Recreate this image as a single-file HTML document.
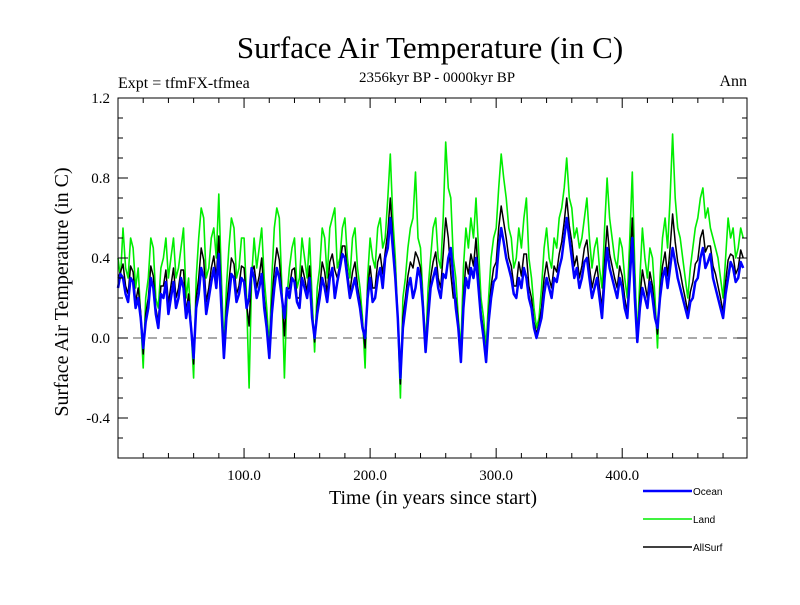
<!DOCTYPE html>
<html><head><meta charset="utf-8"><style>
body{margin:0;background:#fff}
svg text{font-family:"Liberation Serif",serif;fill:#000}
</style></head><body>
<svg id="chart" width="800" height="600" viewBox="0 0 800 600">
<text x="430" y="58" font-size="31" text-anchor="middle">Surface Air Temperature (in C)</text>
<text x="118" y="88" font-size="16">Expt = tfmFX-tfmea</text>
<text x="437" y="82" font-size="15" text-anchor="middle">2356kyr BP - 0000kyr BP</text>
<text x="747" y="86" font-size="16" text-anchor="end">Ann</text>
<text transform="translate(68,292) rotate(-90)" font-size="20" text-anchor="middle">Surface Air Temperature (in C)</text>
<text x="433" y="504" font-size="20" text-anchor="middle">Time (in years since start)</text>
<g id="plot"></g>
<g id="axes"></g>
<g>
<line x1="643" y1="491" x2="692" y2="491" stroke="#0000ff" stroke-width="2.5"/>
<text x="693" y="495" font-size="10" style="font-family:'Liberation Sans',sans-serif">Ocean</text>
<line x1="643" y1="519" x2="692" y2="519" stroke="#00ee00" stroke-width="1.5"/>
<text x="693" y="523" font-size="10" style="font-family:'Liberation Sans',sans-serif">Land</text>
<line x1="643" y1="547" x2="692" y2="547" stroke="#000" stroke-width="1.5"/>
<text x="693" y="551" font-size="10" style="font-family:'Liberation Sans',sans-serif">AllSurf</text>
</g>
</svg>
<script>
const yearStep = 2;
const oceanValues = [0.25,0.32,0.3,0.22,0.18,0.3,0.28,0.15,0.2,0.1,-0.05,0.08,0.15,0.3,0.25,0.12,0.05,0.22,0.2,0.28,
0.12,0.2,0.28,0.15,0.2,0.3,0.25,0.1,0.18,0.05,-0.1,0.15,0.22,0.35,0.3,0.12,0.2,0.28,0.35,0.25,
0.42,0.15,-0.1,0.1,0.2,0.32,0.3,0.18,0.22,0.3,0.28,0.15,0.2,0.35,0.3,0.2,0.25,0.32,0.15,0.05,
-0.1,0.12,0.25,0.35,0.3,0.2,0.1,0.25,0.2,0.3,0.28,0.18,0.15,0.3,0.25,0.2,0.3,0.1,0.0,0.12,
0.2,0.3,0.25,0.18,0.3,0.35,0.2,0.28,0.35,0.42,0.4,0.3,0.2,0.25,0.3,0.22,0.15,0.05,0.0,0.2,
0.3,0.18,0.2,0.3,0.35,0.25,0.4,0.45,0.6,0.45,0.3,0.1,-0.2,0.05,0.15,0.25,0.3,0.2,0.25,0.35,
0.3,0.15,-0.07,0.1,0.25,0.3,0.35,0.25,0.2,0.32,0.3,0.4,0.45,0.3,0.15,0.05,-0.12,0.15,0.3,0.25,
0.35,0.3,0.4,0.25,0.1,0.0,-0.12,0.08,0.2,0.28,0.3,0.45,0.55,0.48,0.4,0.35,0.3,0.22,0.2,0.3,
0.25,0.35,0.3,0.2,0.15,0.05,0.0,0.05,0.1,0.22,0.3,0.25,0.2,0.3,0.28,0.35,0.4,0.5,0.6,0.5,
0.4,0.3,0.35,0.25,0.3,0.38,0.4,0.3,0.2,0.25,0.3,0.2,0.1,0.3,0.45,0.35,0.3,0.25,0.2,0.3,
0.25,0.15,0.1,0.3,0.5,0.2,-0.02,0.15,0.25,0.2,0.15,0.28,0.2,0.1,0.05,0.2,0.3,0.35,0.25,0.35,
0.45,0.38,0.3,0.25,0.2,0.15,0.1,0.18,0.2,0.28,0.3,0.4,0.45,0.35,0.38,0.42,0.3,0.25,0.2,0.15,
0.1,0.22,0.3,0.38,0.35,0.28,0.3,0.38,0.35];
const landValues = [0.4,0.3,0.55,0.35,0.3,0.5,0.45,0.25,0.35,0.1,-0.15,0.2,0.3,0.5,0.45,0.2,0.15,0.35,0.4,0.5,
0.3,0.4,0.5,0.3,0.35,0.45,0.55,0.2,0.3,0.05,-0.2,0.3,0.5,0.65,0.6,0.3,0.35,0.5,0.55,0.4,
0.72,0.3,-0.05,0.25,0.45,0.6,0.55,0.3,0.35,0.5,0.5,0.2,-0.25,0.3,0.5,0.35,0.45,0.55,0.3,0.15,
-0.05,0.3,0.55,0.65,0.6,0.25,-0.2,0.2,0.35,0.45,0.5,0.25,0.3,0.5,0.4,0.3,0.5,0.2,-0.07,0.25,
0.35,0.55,0.5,0.3,0.55,0.6,0.65,0.35,0.4,0.55,0.6,0.4,0.3,0.5,0.55,0.35,0.25,0.1,-0.15,0.3,
0.5,0.4,0.35,0.55,0.6,0.45,0.5,0.7,0.92,0.6,0.4,0.1,-0.3,0.2,0.3,0.45,0.55,0.6,0.83,0.5,
0.45,0.2,-0.05,0.25,0.4,0.55,0.6,0.4,0.35,0.6,0.98,0.75,0.7,0.4,0.3,0.1,-0.05,0.35,0.55,0.45,
0.6,0.5,0.7,0.45,0.2,0.1,-0.05,0.2,0.4,0.5,0.55,0.75,0.92,0.8,0.7,0.55,0.5,0.35,0.4,0.55,
0.45,0.6,0.7,0.4,0.3,0.15,0.05,0.1,0.25,0.45,0.55,0.4,0.35,0.5,0.45,0.6,0.65,0.75,0.9,0.7,
0.65,0.5,0.55,0.45,0.5,0.6,0.7,0.5,0.35,0.45,0.5,0.35,0.25,0.55,0.8,0.6,0.5,0.4,0.35,0.5,
0.45,0.3,0.2,0.5,0.83,0.35,0.0,0.3,0.55,0.4,0.3,0.45,0.4,0.2,-0.05,0.3,0.5,0.6,0.45,0.7,
1.02,0.7,0.55,0.5,0.4,0.3,0.2,0.35,0.45,0.55,0.6,0.7,0.75,0.6,0.65,0.55,0.5,0.45,0.4,0.3,
0.2,0.4,0.6,0.5,0.55,0.4,0.45,0.55,0.5];
const allSurfValues = [0.3,0.33,0.37,0.26,0.22,0.36,0.33,0.18,0.25,0.13,-0.08,0.12,0.2,0.36,0.31,0.15,0.08,0.26,0.26,0.34,
0.17,0.26,0.35,0.2,0.25,0.34,0.34,0.13,0.22,0.06,-0.13,0.2,0.3,0.45,0.39,0.18,0.25,0.35,0.41,0.3,
0.51,0.2,-0.08,0.15,0.28,0.4,0.37,0.22,0.26,0.36,0.35,0.17,0.06,0.33,0.36,0.25,0.31,0.4,0.2,0.08,
-0.08,0.18,0.34,0.45,0.39,0.22,0.01,0.24,0.25,0.34,0.35,0.2,0.2,0.36,0.3,0.23,0.36,0.13,-0.02,0.16,
0.25,0.38,0.33,0.22,0.38,0.42,0.34,0.3,0.37,0.46,0.46,0.33,0.23,0.33,0.38,0.26,0.18,0.07,-0.05,0.24,
0.36,0.25,0.25,0.38,0.42,0.32,0.43,0.53,0.7,0.5,0.33,0.1,-0.23,0.1,0.2,0.31,0.38,0.35,0.43,0.4,
0.35,0.17,-0.06,0.15,0.3,0.38,0.43,0.3,0.25,0.42,0.6,0.5,0.32,0.2,0.2,0.08,-0.1,0.2,0.38,0.32,
0.42,0.36,0.5,0.3,0.13,0.03,-0.1,0.12,0.26,0.35,0.38,0.55,0.66,0.58,0.5,0.4,0.36,0.26,0.26,0.38,
0.31,0.42,0.42,0.26,0.2,0.08,0.02,0.07,0.15,0.3,0.38,0.3,0.25,0.36,0.33,0.42,0.48,0.58,0.7,0.56,
0.48,0.36,0.41,0.3,0.36,0.45,0.49,0.36,0.25,0.31,0.36,0.25,0.15,0.38,0.56,0.42,0.36,0.3,0.25,0.36,
0.31,0.2,0.13,0.36,0.6,0.25,-0.01,0.2,0.34,0.27,0.2,0.33,0.26,0.13,0.02,0.23,0.36,0.43,0.31,0.45,
0.62,0.48,0.38,0.33,0.26,0.2,0.13,0.23,0.28,0.37,0.39,0.5,0.54,0.43,0.46,0.46,0.36,0.32,0.26,0.2,
0.13,0.28,0.39,0.42,0.41,0.32,0.35,0.44,0.4];
const yTickLabels = ["1.2","0.8","0.4","0.0","-0.4"];
const xTickLabels = ["100.0","200.0","300.0","400.0"];

const NS="http://www.w3.org/2000/svg";
const L=118,R=747,T=98,B=458, X0=0,X1=499, Y0=-0.6,Y1=1.2;
const xs=v=>L+(v-X0)/(X1-X0)*(R-L);
const ys=v=>B-(v-Y0)/(Y1-Y0)*(B-T);
const plot=document.getElementById('plot'), axes=document.getElementById('axes');
function mk(tag,attrs,parent){const e=document.createElementNS(NS,tag);for(const k in attrs)e.setAttribute(k,attrs[k]);parent.appendChild(e);return e;}

const z=mk('line',{x1:L,x2:R,y1:ys(0),y2:ys(0),stroke:'#555','stroke-width':1,'stroke-dasharray':'9,6'},plot);



function series(vals,color,w,name){
  const d=vals.map((v,i)=>(i?'L':'M')+xs(i*yearStep).toFixed(1)+','+ys(v).toFixed(1)).join('');
  const p=mk('path',{d:d,fill:'none',stroke:color,'stroke-width':w,'stroke-linejoin':'round'},plot);
  
  
}
series(landValues,'#00ee00',1.6,'land-series');
series(allSurfValues,'#000',1.5,'allsurf-series');
series(oceanValues,'#0000ff',2.5,'ocean-series');

const frame=mk('rect',{x:L,y:T,width:R-L,height:B-T,fill:'none',stroke:'#000','stroke-width':1},axes);



for(let v=-0.6;v<=1.2001;v+=0.1){
  const major=Math.abs(Math.round(v*10)%4)===0;
  const len=major?10:5, y=ys(v);
  mk('line',{x1:L,x2:L+len,y1:y,y2:y,stroke:'#000'},axes);
  mk('line',{x1:R,x2:R-len,y1:y,y2:y,stroke:'#000'},axes);
}
yTickLabels.forEach(s=>{
  const t=mk('text',{x:L-8,y:ys(parseFloat(s))+5,'font-size':15,'text-anchor':'end'},axes);
  t.textContent=s;
  
  
});
for(let v=20;v<X1;v+=20){
  const len=(v%100===0)?10:5, x=xs(v);
  mk('line',{x1:x,x2:x,y1:B,y2:B-len,stroke:'#000'},axes);
  mk('line',{x1:x,x2:x,y1:T,y2:T+len,stroke:'#000'},axes);
}
xTickLabels.forEach(s=>{
  const t=mk('text',{x:xs(parseFloat(s)),y:B+22,'font-size':15,'text-anchor':'middle'},axes);
  t.textContent=s;
  
  
});
</script>
</body></html>
